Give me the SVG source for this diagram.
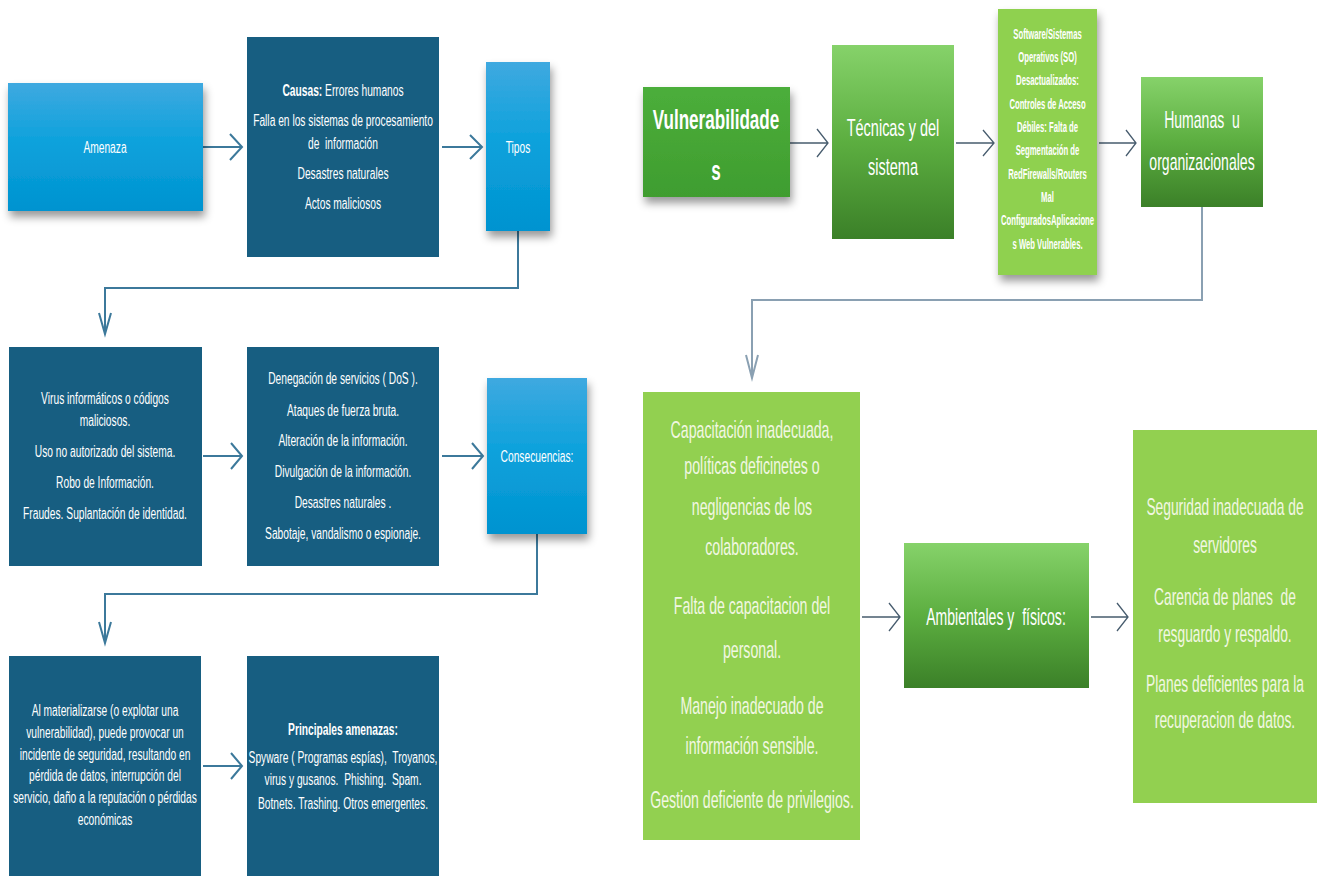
<svg xmlns="http://www.w3.org/2000/svg" width="1322" height="876" viewBox="0 0 1322 876">
  <defs>
    <linearGradient id="gBlue" x1="0" y1="0" x2="0" y2="1">
      <stop offset="0" stop-color="#3fa9e0"/>
      <stop offset="0.45" stop-color="#0ea2dc"/>
      <stop offset="1" stop-color="#0093d0"/>
    </linearGradient>
    <linearGradient id="gGreen" x1="0" y1="0" x2="0" y2="1">
      <stop offset="0" stop-color="#86d26a"/>
      <stop offset="0.5" stop-color="#5cae40"/>
      <stop offset="1" stop-color="#3b8028"/>
    </linearGradient>
    <linearGradient id="gVuln" x1="0" y1="0" x2="0" y2="1">
      <stop offset="0" stop-color="#4cae3b"/>
      <stop offset="1" stop-color="#3f9d2f"/>
    </linearGradient>
    <filter id="shadow" x="-15%" y="-10%" width="135%" height="135%">
      <feDropShadow dx="2" dy="6" stdDeviation="4" flood-color="#000" flood-opacity="0.4"/>
    </filter>
  </defs>
  <style>
    .dark{fill:#175e81}
    .lite{fill:#92d050}
    .t{font-family:"Liberation Sans",Arial,sans-serif;fill:#ffffff;text-anchor:middle;white-space:pre}
    .s16{font-size:16px}
    .s14b{font-size:14px;font-weight:bold}
    .s23{font-size:23px}
    .s24{font-size:24px}
    .pale{fill:#f1f7e2}
    .b{font-weight:bold}
    .cl{stroke:#3c799b;stroke-width:2;fill:none}
    .cr{stroke:#475c6e;stroke-width:1.3;fill:none}
    .cg{stroke:#8aa0b2;stroke-width:2;fill:none}
  </style>
  <rect width="1322" height="876" fill="#ffffff"/>

  <!-- connectors -->
  <g id="connectors">
    <!-- left column -->
    <path class="cl" d="M203 147H242M230 134L242 147L230 160"/>
    <path class="cl" d="M442 147H482M470 135L482 147L470 159"/>
    <path class="cl" d="M518 231V288H105V334M99 313L105 334L111 313"/>
    <path class="cl" d="M203 456H242M231 443L242 456L231 469"/>
    <path class="cl" d="M442 456H483M472 443L483 456L472 469"/>
    <path class="cl" d="M537 534V594H105V643M99 622L105 643L111 622"/>
    <path class="cl" d="M203 766H242M231 753L242 766L231 779"/>
    <!-- right column -->
    <path class="cr" d="M790 143H828M817 129L828 143L817 157"/>
    <path class="cr" d="M956 143H994M983 130L994 143L983 156"/>
    <path class="cr" d="M1099 143H1136M1126 130L1136 143L1126 156"/>
    <path class="cg" d="M1202 207V300H752V378M746 355L752 378L758 355"/>
    <path class="cr" d="M862 617H900M889 603L900 617L889 631"/>
    <path class="cr" d="M1091 617H1128M1117 603L1128 617L1117 631"/>
  </g>

  <!-- left: amenazas -->
  <g id="amenaza">
    <rect x="8" y="83" width="195" height="128" fill="url(#gBlue)" filter="url(#shadow)"/>
    <g transform="translate(105 0) scale(0.64 1)"><text class="t s16" x="0" y="153">Amenaza</text></g>
  </g>
  <g id="causas">
    <rect class="dark" x="247" y="37" width="192" height="220"/>
    <g transform="translate(343 0) scale(0.64 1)">
      <text class="t s16" x="0" y="96"><tspan class="b">Causas:</tspan> Errores humanos</text>
      <text class="t s16" x="0" y="126">Falla en los sistemas de procesamiento</text>
      <text class="t s16" x="0" y="149">de  información</text>
      <text class="t s16" x="0" y="179">Desastres naturales</text>
      <text class="t s16" x="0" y="209">Actos maliciosos</text>
    </g>
  </g>
  <g id="tipos">
    <rect x="486" y="62" width="64" height="169" fill="url(#gBlue)" filter="url(#shadow)"/>
    <g transform="translate(518 0) scale(0.64 1)"><text class="t s16" x="0" y="153">Tipos</text></g>
  </g>
  <g id="tipos-lista">
    <rect class="dark" x="9" y="347" width="193" height="219"/>
    <g transform="translate(105 0) scale(0.64 1)">
      <text class="t s16" x="0" y="404">Virus informáticos o códigos</text>
      <text class="t s16" x="0" y="426">maliciosos.</text>
      <text class="t s16" x="0" y="457">Uso no autorizado del sistema.</text>
      <text class="t s16" x="0" y="488">Robo de Información.</text>
      <text class="t s16" x="0" y="519">Fraudes. Suplantación de identidad.</text>
    </g>
  </g>
  <g id="ataques">
    <rect class="dark" x="247" y="347" width="192" height="219"/>
    <g transform="translate(343 0) scale(0.64 1)">
      <text class="t s16" x="0" y="384">Denegación de servicios ( DoS ).</text>
      <text class="t s16" x="0" y="416">Ataques de fuerza bruta.</text>
      <text class="t s16" x="0" y="446">Alteración de la información.</text>
      <text class="t s16" x="0" y="477">Divulgación de la información.</text>
      <text class="t s16" x="0" y="508">Desastres naturales .</text>
      <text class="t s16" x="0" y="539">Sabotaje, vandalismo o espionaje.</text>
    </g>
  </g>
  <g id="consecuencias">
    <rect x="487" y="378" width="100" height="156" fill="url(#gBlue)" filter="url(#shadow)"/>
    <g transform="translate(537 0) scale(0.64 1)"><text class="t s16" x="0" y="462">Consecuencias:</text></g>
  </g>
  <g id="impacto">
    <rect class="dark" x="9" y="656" width="192" height="220"/>
    <g transform="translate(105 0) scale(0.64 1)">
      <text class="t s16" x="0" y="716">Al materializarse (o explotar una</text>
      <text class="t s16" x="0" y="738">vulnerabilidad), puede provocar un</text>
      <text class="t s16" x="0" y="760">incidente de seguridad, resultando en</text>
      <text class="t s16" x="0" y="781">pérdida de datos, interrupción del</text>
      <text class="t s16" x="0" y="803">servicio, daño a la reputación o pérdidas</text>
      <text class="t s16" x="0" y="825">económicas</text>
    </g>
  </g>
  <g id="principales">
    <rect class="dark" x="247" y="656" width="192" height="220"/>
    <g transform="translate(343 0) scale(0.64 1)">
      <text class="t s16 b" x="0" y="735">Principales amenazas:</text>
      <text class="t s16" x="0" y="763">Spyware ( Programas espías),  Troyanos,</text>
      <text class="t s16" x="0" y="785">virus y gusanos.  Phishing.  Spam.</text>
      <text class="t s16" x="0" y="809">Botnets. Trashing. Otros emergentes.</text>
    </g>
  </g>

  <!-- right: vulnerabilidades -->
  <g id="vulnerabilidades">
    <rect x="643" y="87" width="147" height="110" fill="url(#gVuln)" filter="url(#shadow)"/>
    <g transform="translate(716 0) scale(0.61 1)">
      <text class="t b" style="font-size:28px" x="0" y="129">Vulnerabilidade</text>
      <text class="t b" style="font-size:28px" x="0" y="180">s</text>
    </g>
  </g>
  <g id="tecnicas">
    <rect x="832" y="45" width="122" height="194" fill="url(#gGreen)"/>
    <g transform="translate(893 0) scale(0.63 1)">
      <text class="t s23" x="0" y="136">Técnicas y del</text>
      <text class="t s23" x="0" y="175">sistema</text>
    </g>
  </g>
  <g id="software">
    <rect x="998" y="9" width="99" height="266" fill="#8fd14f" filter="url(#shadow)"/>
    <g transform="translate(1047.5 0) scale(0.55 1)">
      <text class="t s14b" x="0" y="39">Software/Sistemas</text>
      <text class="t s14b" x="0" y="62">Operativos (SO)</text>
      <text class="t s14b" x="0" y="85">Desactualizados:</text>
      <text class="t s14b" x="0" y="109">Controles de Acceso</text>
      <text class="t s14b" x="0" y="132">Débiles: Falta de</text>
      <text class="t s14b" x="0" y="155">Segmentación de</text>
      <text class="t s14b" x="0" y="179">RedFirewalls/Routers</text>
      <text class="t s14b" x="0" y="202">Mal</text>
      <text class="t s14b" x="0" y="225">ConfiguradosAplicacione</text>
      <text class="t s14b" x="0" y="249">s Web Vulnerables.</text>
    </g>
  </g>
  <g id="humanas">
    <rect x="1141" y="77" width="122" height="130" fill="url(#gGreen)"/>
    <g transform="translate(1202 0) scale(0.61 1)">
      <text class="t s23" x="0" y="128">Humanas  u</text>
      <text class="t s23" x="0" y="170">organizacionales</text>
    </g>
  </g>
  <g id="humanas-lista">
    <rect class="lite" x="643" y="392" width="217" height="448"/>
    <g transform="translate(752 0) scale(0.59 1)">
      <text class="t s24 pale" x="0" y="438">Capacitación inadecuada,</text>
      <text class="t s24 pale" x="0" y="474">políticas deficinetes o</text>
      <text class="t s24 pale" x="0" y="515">negligencias de los</text>
      <text class="t s24 pale" x="0" y="555">colaboradores.</text>
      <text class="t s24 pale" x="0" y="614">Falta de capacitacion del</text>
      <text class="t s24 pale" x="0" y="658">personal.</text>
      <text class="t s24 pale" x="0" y="714">Manejo inadecuado de</text>
      <text class="t s24 pale" x="0" y="754">información sensible.</text>
      <text class="t s24 pale" x="0" y="808">Gestion deficiente de privilegios.</text>
    </g>
  </g>
  <g id="ambientales">
    <rect x="904" y="543" width="185" height="145" fill="url(#gGreen)"/>
    <g transform="translate(996 0) scale(0.61 1)">
      <text class="t s23" x="0" y="625">Ambientales y  físicos:</text>
    </g>
  </g>
  <g id="ambientales-lista">
    <rect class="lite" x="1133" y="430" width="184" height="373"/>
    <g transform="translate(1225 0) scale(0.6 1)">
      <text class="t s23 pale" x="0" y="515">Seguridad inadecuada de</text>
      <text class="t s23 pale" x="0" y="553">servidores</text>
      <text class="t s23 pale" x="0" y="605">Carencia de planes  de</text>
      <text class="t s23 pale" x="0" y="642">resguardo y respaldo.</text>
      <text class="t s23 pale" x="0" y="692">Planes deficientes para la</text>
      <text class="t s23 pale" x="0" y="728">recuperacion de datos.</text>
    </g>
  </g>
</svg>
